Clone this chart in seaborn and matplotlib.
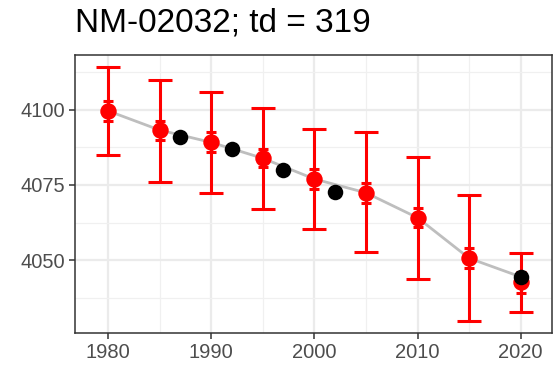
import matplotlib
matplotlib.use("Agg")
import matplotlib.pyplot as plt
import seaborn as sns
import numpy as np
import pandas as pd

# ---- data ----
years_red = [1980, 1985, 1990, 1995, 2000, 2005, 2010, 2015, 2020]
mean_red = [4099.7, 4093.3, 4089.2, 4083.9, 4077.0, 4072.4, 4064.1, 4050.6, 4042.6]
outer_lo = [4084.9, 4076.1, 4072.2, 4067.0, 4060.2, 4052.6, 4043.8, 4029.8, 4032.6]
outer_hi = [4114.4, 4110.0, 4106.0, 4100.7, 4093.6, 4092.7, 4084.4, 4071.7, 4052.2]
inner_lo = [4096.3, 4090.0, 4085.9, 4080.9, 4073.6, 4069.1, 4060.9, 4047.3, 4039.1]
inner_hi = [4103.1, 4096.3, 4092.7, 4087.0, 4080.3, 4075.6, 4067.2, 4053.9, 4046.0]
years_black = [1987, 1992, 1997, 2002, 2020]
vals_black = [4090.9, 4086.9, 4080.0, 4072.8, 4044.4]
line_years = [1980, 1985, 1990, 1995, 2000, 2005, 2010, 2015, 2020]
line_vals = [4099.7, 4093.3, 4089.2, 4083.9, 4077.0, 4072.4, 4064.1, 4050.6, 4044.4]
x_ticks = [1980, 1990, 2000, 2010, 2020]
y_ticks = [4050, 4075, 4100]
title = "NM-02032; td = 319"

sns.set_theme(style="white")
plt.rcParams['font.family'] = ['Liberation Sans', 'DejaVu Sans']

W, H = 556, 372
fig = plt.figure(figsize=(W / 100, H / 100), dpi=100)
L, R, T, B = 75, 551.7, 55, 333
ax = fig.add_axes([L / W, 1 - B / H, (R - L) / W, (B - T) / H])
ax.set_facecolor("white")

df_red = pd.DataFrame({"year": years_red, "mean": mean_red})
df_black = pd.DataFrame({"year": years_black, "val": vals_black})
df_line = pd.DataFrame({"year": line_years, "val": line_vals})

sns.lineplot(data=df_line, x="year", y="val", color="#BEBEBE", lw=2.0, ax=ax, zorder=2)

mr = np.array(mean_red)
ax.errorbar(years_red, mr, yerr=[mr - np.array(outer_lo), np.array(outer_hi) - mr],
            fmt="none", ecolor="#FF0000", elinewidth=2.2, capsize=8.3, capthick=2.2, zorder=3)
ax.errorbar(years_red, mr, yerr=[mr - np.array(inner_lo), np.array(inner_hi) - mr],
            fmt="none", ecolor="#FF0000", elinewidth=2.2, capsize=3.8, capthick=2.2, zorder=3)

sns.scatterplot(data=df_red, x="year", y="mean", color="#FF0000", s=140, linewidth=0,
                ax=ax, zorder=4)
sns.scatterplot(data=df_black, x="year", y="val", color="black", s=125, linewidth=0,
                ax=ax, zorder=5)

ax.set_xlim(1976.8, 2023.0)
ax.set_ylim(4025.7, 4118.3)
ax.set_xticks(x_ticks)
ax.set_yticks(y_ticks)
ax.set_xticks([1985, 1995, 2005, 2015], minor=True)
ax.set_yticks([4037.5, 4062.5, 4087.5, 4112.5], minor=True)
ax.grid(True, which="major", color="#EBEBEB", lw=1.6, zorder=0)
ax.grid(True, which="minor", color="#F0F0F0", lw=0.9, zorder=0)
ax.set_axisbelow(True)
ax.set_xlabel("")
ax.set_ylabel("")
ax.tick_params(axis="both", which="major", length=4, width=1.1, color="#333333",
               labelsize=14.5, labelcolor="#4D4D4D", pad=3, bottom=True, left=True)
ax.tick_params(axis="both", which="minor", length=0)
for s in ax.spines.values():
    s.set_visible(True)
    s.set_color("#333333")
    s.set_linewidth(1.1)

fig.text(L / W, 1 - 31 / H, title, fontsize=24, color="black", ha="left", va="baseline")

fig.savefig("out.png", dpi=100)
